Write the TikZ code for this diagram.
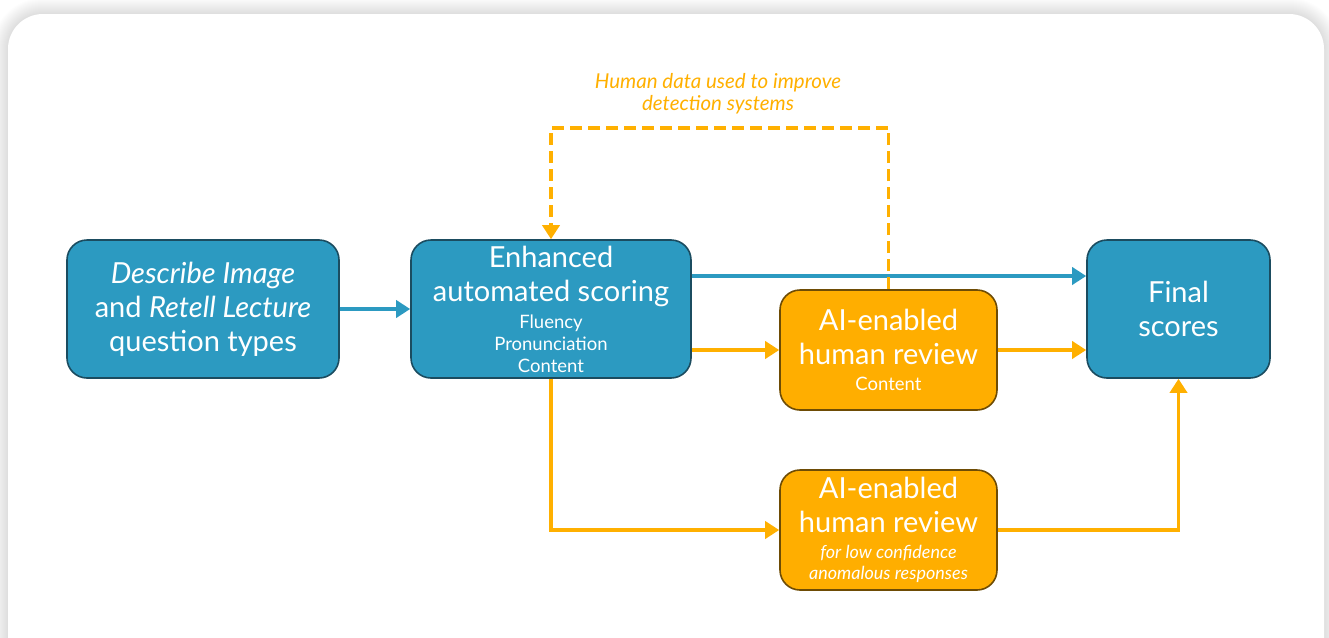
\documentclass[tikz,border=0pt]{standalone}
\usepackage{fontspec}
\setmainfont{Lato}
\usetikzlibrary{arrows.meta,positioning}
\definecolor{boxblue}{HTML}{2C9AC1}
\definecolor{blueedge}{HTML}{1B4C60}
\definecolor{boxorange}{HTML}{FFAE00}
\definecolor{orangeedge}{HTML}{6E4C05}
\definecolor{arrorange}{HTML}{FFB000}
\tikzset{
  box/.style={draw, line width=1.6pt, rounded corners=20pt, align=center, text=white, inner sep=2pt,
    font=\fontsize{29}{34}\selectfont},
  bluebox/.style={box, fill=boxblue, draw=blueedge},
  orangebox/.style={box, fill=boxorange, draw=orangeedge},
  conn/.style={line width=3.6pt, -{Triangle[length=14pt,width=17pt]}},
  bconn/.style={conn, draw=boxblue},
  oconn/.style={conn, draw=arrorange},
}
\newcommand{\smalltxt}{\fontsize{18.5}{22}\selectfont}
\newcommand{\tinytxt}{\fontsize{18}{21}\selectfont}
\begin{document}
\begin{tikzpicture}[x=1pt,y=-1pt]
\useasboundingbox (0,0) rectangle (1329,637);
% shadow and card
\foreach \i in {16,15,...,1}{
  \fill[black, opacity=0.007, rounded corners={35pt+\i pt}] (8-\i,14-\i) rectangle (1324+\i,680);
}
\fill[white, rounded corners=35pt] (8,14) rectangle (1324,680);

\node[bluebox, minimum width=272pt, minimum height=138pt] (b1) at (203,309)
  {\textit{Describe Image}\\ and \textit{Retell Lecture}\\ question types};
\node[bluebox, minimum width=280pt, minimum height=138pt] (b2) at (551,309)
  {Enhanced\\ automated scoring\\[-7pt] \smalltxt Fluency\\[-12pt] \smalltxt Pronunciation\\[-12pt] \smalltxt Content};
\node[orangebox, minimum width=217pt, minimum height=120pt] (b3) at (888.5,350)
  {AI-enabled\\ human review\\[-8pt] \smalltxt Content};
\node[orangebox, minimum width=217pt, minimum height=120pt] (b4) at (888.5,530)
  {AI-enabled\\ human review\\[-8pt] \tinytxt\itshape for low confidence\\[-13pt] \tinytxt\itshape anomalous responses};
\node[bluebox, minimum width=183pt, minimum height=138pt] (b5) at (1178.5,309)
  {Final\\ scores};

\node[text=arrorange, align=center, font=\fontsize{20.5}{22}\selectfont\itshape] (lbl) at (718,94)
  {Human data used to improve\\ detection systems};
\coordinate (top) at (884,128);

\draw[bconn] (b1.east) -- (b2.west);
\draw[bconn] ([yshift=33pt]b2.east) -- ([yshift=33pt]b5.west);
\draw[oconn] (b3.west -| b2.east) -- (b3.west);
\draw[oconn] (b3.east) -- (b3.east -| b5.west);
\draw[oconn] (b2.south) |- (b4.west);
\draw[oconn] (b4.east) -| (b5.south);
\draw[oconn, dash pattern=on 12pt off 6pt] (b3.north) |- (top) -| (b2.north);
\end{tikzpicture}
\end{document}
